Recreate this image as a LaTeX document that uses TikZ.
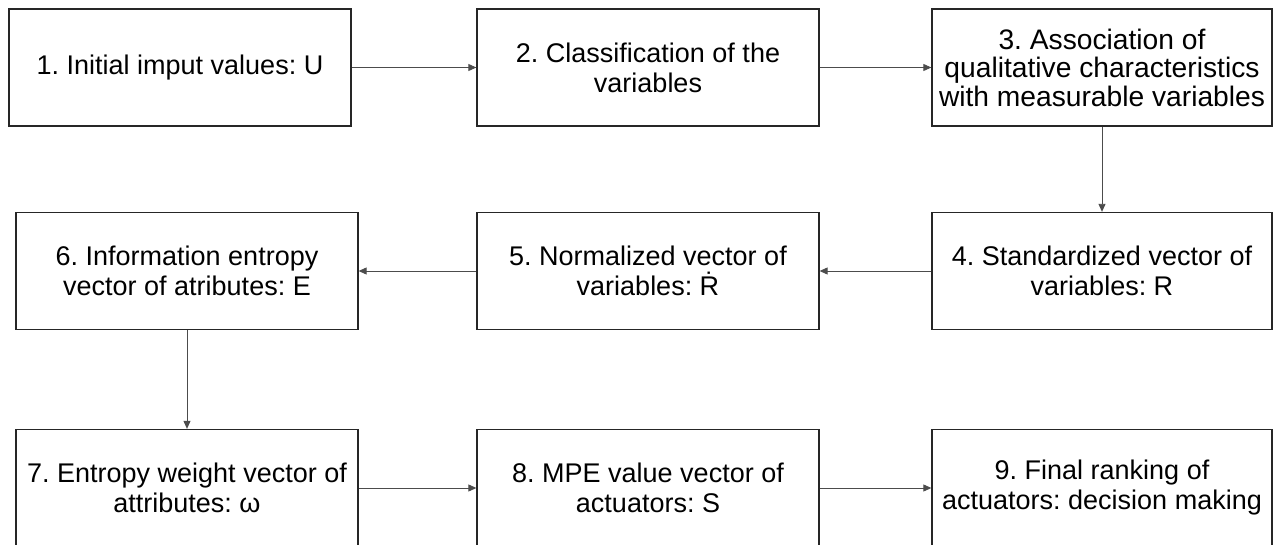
\documentclass[tikz,border=0pt]{standalone}
\usepackage{fontspec}
\setmainfont{Liberation Sans}
\usetikzlibrary{arrows.meta}
\frenchspacing
\begin{document}
\frenchspacing
\begin{tikzpicture}[x=1pt,y=-1pt,
  stepbox/.style={draw=black!85,line width=1.3pt,minimum width=342pt,minimum height=117pt,
    inner sep=0pt,align=center,font=\fontsize{27}{30}\selectfont\frenchspacing},
  conn/.style={draw=black!70,line width=0.9pt,-{Triangle[length=8pt,width=7pt]}}]
\useasboundingbox[fill=white] (0,0) rectangle (1274,545);
\node[stepbox] (b1) at (180,67.5) {1. Initial imput values: U};
\node[stepbox] (b2) at (648,67.5) {2. Classification of the\\variables};
\node[stepbox,minimum width=340pt,font=\fontsize{28.2}{28.5}\selectfont\frenchspacing] (b3) at (1102,67.5) {3. Association of\\qualitative characteristics\\with measurable variables};
\node[stepbox,minimum width=340pt] (b4) at (1102,271) {4. Standardized vector of\\variables: R};
\node[stepbox] (b5) at (648,271) {5. Normalized vector of\\variables: Ṙ};
\node[stepbox] (b6) at (187,271) {6. Information entropy\\vector of atributes: E};
\node[stepbox] (b7) at (187,488) {7. Entropy weight vector of\\attributes: ω};
\node[stepbox] (b8) at (648,488) {8. MPE value vector of\\actuators: S};
\node[stepbox,minimum width=340pt] (b9) at (1102,488) {9. Final ranking of\\actuators: decision making};
\draw[conn] (b1) -- (b2);
\draw[conn] (b2) -- (b3);
\draw[conn] (b3) -- (b4);
\draw[conn] (b4) -- (b5);
\draw[conn] (b5) -- (b6);
\draw[conn] (b6) -- (b7);
\draw[conn] (b7) -- (b8);
\draw[conn] (b8) -- (b9);
\end{tikzpicture}
\end{document}
